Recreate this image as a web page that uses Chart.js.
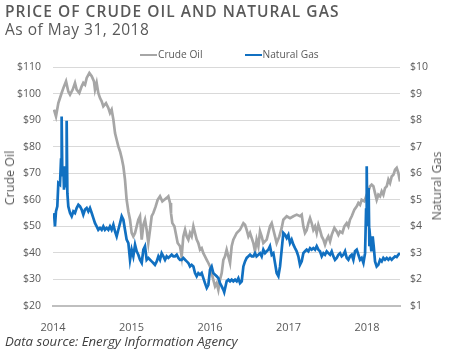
<!DOCTYPE html>
<html>
<head>
<meta charset="utf-8">
<script src="https://cdn.jsdelivr.net/npm/chart.js@4.4.1/dist/chart.umd.min.js"></script>
<style>
  body { margin: 0; background: #fff; }
  #wrap { position: relative; width: 450px; height: 353px; overflow: hidden; font-family: 'Open Sans', sans-serif; color: #595959; }
  canvas { position: absolute; left: 0; top: 0; }
  .txt { position: absolute; white-space: nowrap; }
  #title { left: 5px; top: 1px; font-size: 15.5px; font-weight: 600; letter-spacing: 1.05px; line-height: 20px; }
  #subtitle { left: 5px; top: 19px; font-size: 15.5px; letter-spacing: 0.5px; line-height: 20px; }
  #legend { left: 140px; top: 46px; font-size: 10.2px; line-height: 16px; }
  #legend .item { display: inline-block; }
  #legend .swatch { display: inline-block; width: 17px; height: 2px; vertical-align: middle; margin-right: 1px; }
  #footer { left: 5px; top: 332px; font-size: 13.2px; font-style: italic; color: #404040; line-height: 18px; }
  .axis-title { font-size: 12.5px; line-height: 16px; transform: translate(-50%, -50%) rotate(-90deg); }
</style>
</head>
<body>
<div id="wrap">
  <canvas id="chart" width="450" height="353"></canvas>
  <div class="txt" id="title">PRICE OF CRUDE OIL AND NATURAL GAS</div>
  <div class="txt" id="subtitle">As of May 31, 2018</div>
  <div class="txt" id="legend"></div>
  <div class="txt axis-title" style="left:10px; top:178px;">Crude Oil</div>
  <div class="txt axis-title" style="left:437px; top:186px;">Natural Gas</div>
  <div class="txt" id="footer">Data source: Energy Information Agency</div>
</div>
<script>
const seriesNames = ['Crude Oil', 'Natural Gas'];
const seriesColors = ['#a6a6a6', '#1170c1'];
const yearTicks = [2014, 2015, 2016, 2017, 2018];

// crude oil, $/barrel (left axis)
const oilDates = [
  2014.013, 2014.038, 2014.068, 2014.110, 2014.140, 2014.166, 2014.195, 2014.217, 2014.251, 2014.280,
  2014.301, 2014.335, 2014.365, 2014.386, 2014.408, 2014.429, 2014.463, 2014.493, 2014.522, 2014.535,
  2014.556, 2014.577, 2014.599, 2014.620, 2014.641, 2014.675, 2014.705, 2014.726, 2014.747, 2014.769,
  2014.790, 2014.811, 2014.832, 2014.854, 2014.875, 2014.896, 2014.917, 2014.938, 2014.960, 2014.981,
  2015.002, 2015.023, 2015.045, 2015.066, 2015.087, 2015.108, 2015.130, 2015.151, 2015.172, 2015.193,
  2015.214, 2015.236, 2015.257, 2015.278, 2015.308, 2015.333, 2015.363, 2015.393, 2015.418, 2015.448,
  2015.469, 2015.491, 2015.503, 2015.520, 2015.546, 2015.563, 2015.588, 2015.618, 2015.639, 2015.660,
  2015.682, 2015.703, 2015.724, 2015.745, 2015.766, 2015.788, 2015.809, 2015.830, 2015.851, 2015.873,
  2015.894, 2015.915, 2015.936, 2015.958, 2015.979, 2016.000, 2016.021, 2016.042, 2016.064, 2016.085,
  2016.106, 2016.127, 2016.149, 2016.170, 2016.191, 2016.212, 2016.255, 2016.276, 2016.297, 2016.340,
  2016.382, 2016.425, 2016.446, 2016.467, 2016.489, 2016.510, 2016.552, 2016.573, 2016.594, 2016.616,
  2016.637, 2016.658, 2016.679, 2016.722, 2016.764, 2016.786, 2016.807, 2016.828, 2016.849, 2016.883,
  2016.913, 2016.934, 2016.977, 2017.019, 2017.062, 2017.104, 2017.146, 2017.168, 2017.189, 2017.210,
  2017.231, 2017.253, 2017.274, 2017.295, 2017.316, 2017.338, 2017.359, 2017.380, 2017.401, 2017.423,
  2017.444, 2017.465, 2017.486, 2017.507, 2017.529, 2017.550, 2017.584, 2017.614, 2017.635, 2017.656,
  2017.686, 2017.711, 2017.741, 2017.762, 2017.783, 2017.805, 2017.839, 2017.869, 2017.890, 2017.911,
  2017.932, 2017.966, 2017.996, 2018.017, 2018.038, 2018.059, 2018.081, 2018.102, 2018.123, 2018.144,
  2018.166, 2018.187, 2018.208, 2018.229, 2018.251, 2018.272, 2018.293, 2018.314, 2018.336, 2018.357,
  2018.378, 2018.399, 2018.420
];
const oilPrices = [
  93.9, 91.4, 96.4, 100.2, 102.7, 104.6, 100.8, 99.6, 101.5, 104.0,
  101.5, 100.2, 102.7, 104.0, 103.3, 105.9, 107.7, 106.5, 104.6, 101.5,
  104.0, 100.2, 98.3, 97.1, 95.2, 96.4, 94.6, 92.7, 93.9, 90.2,
  85.1, 82.6, 80.1, 78.2, 75.7, 72.6, 67.6, 60.0, 55.6, 52.5,
  47.5, 46.2, 47.5, 50.0, 52.5, 53.8, 45.0, 50.6, 52.5, 48.7,
  43.7, 48.7, 53.8, 55.0, 57.5, 60.0, 61.3, 59.4, 60.0, 60.7,
  61.3, 58.8, 55.0, 51.2, 50.0, 47.5, 43.7, 42.5, 38.7, 46.2,
  48.7, 46.2, 45.0, 47.5, 46.2, 50.0, 47.5, 45.0, 43.7, 41.2,
  41.8, 39.9, 38.7, 37.4, 36.2, 34.9, 32.4, 29.9, 27.4, 28.6,
  26.1, 29.9, 32.4, 37.4, 38.7, 41.2, 36.2, 42.5, 45.0, 47.5,
  48.7, 51.2, 50.6, 48.7, 46.2, 47.5, 43.7, 40.6, 45.0, 42.5,
  48.1, 46.2, 43.7, 45.0, 50.0, 51.2, 48.7, 46.2, 43.7, 46.2,
  49.4, 52.5, 53.8, 53.1, 53.8, 54.4, 53.8, 54.4, 50.0, 47.5,
  48.5, 51.2, 53.1, 51.2, 48.7, 50.0, 47.5, 50.6, 48.7, 46.2,
  45.0, 43.1, 45.0, 46.2, 44.3, 46.8, 49.4, 48.1, 46.8, 48.1,
  47.5, 50.0, 51.2, 50.0, 52.5, 53.8, 56.3, 57.5, 58.8, 58.1,
  60.0, 59.4, 61.9, 63.2, 65.1, 65.7, 65.1, 62.5, 60.0, 61.9,
  61.3, 63.2, 61.9, 64.4, 65.1, 67.6, 66.3, 68.8, 69.4, 71.3,
  72.0, 70.1, 66.9
];

// natural gas, $/MMBtu (right axis)
const gasDates = [
  2014.013, 2014.025, 2014.038, 2014.055, 2014.068, 2014.089, 2014.102, 2014.110, 2014.119, 2014.132,
  2014.140, 2014.153, 2014.166, 2014.174, 2014.183, 2014.195, 2014.217, 2014.238, 2014.259, 2014.280,
  2014.301, 2014.323, 2014.344, 2014.365, 2014.386, 2014.408, 2014.429, 2014.450, 2014.471, 2014.493,
  2014.514, 2014.535, 2014.556, 2014.577, 2014.599, 2014.620, 2014.641, 2014.662, 2014.684, 2014.705,
  2014.726, 2014.747, 2014.769, 2014.790, 2014.811, 2014.832, 2014.854, 2014.875, 2014.896, 2014.917,
  2014.938, 2014.960, 2014.981, 2015.002, 2015.023, 2015.045, 2015.066, 2015.087, 2015.108, 2015.130,
  2015.151, 2015.172, 2015.193, 2015.214, 2015.236, 2015.257, 2015.278, 2015.299, 2015.321, 2015.342,
  2015.363, 2015.384, 2015.406, 2015.427, 2015.448, 2015.469, 2015.491, 2015.512, 2015.533, 2015.554,
  2015.576, 2015.597, 2015.618, 2015.639, 2015.660, 2015.682, 2015.703, 2015.724, 2015.745, 2015.766,
  2015.788, 2015.809, 2015.830, 2015.851, 2015.873, 2015.894, 2015.915, 2015.936, 2015.958, 2015.979,
  2016.000, 2016.021, 2016.042, 2016.064, 2016.085, 2016.106, 2016.127, 2016.149, 2016.170, 2016.181,
  2016.212, 2016.234, 2016.255, 2016.276, 2016.297, 2016.319, 2016.340, 2016.361, 2016.382, 2016.404,
  2016.425, 2016.446, 2016.467, 2016.489, 2016.510, 2016.531, 2016.552, 2016.573, 2016.594, 2016.616,
  2016.637, 2016.658, 2016.679, 2016.701, 2016.722, 2016.743, 2016.764, 2016.786, 2016.807, 2016.828,
  2016.849, 2016.871, 2016.892, 2016.913, 2016.934, 2016.956, 2016.977, 2016.998, 2017.019, 2017.040,
  2017.062, 2017.083, 2017.104, 2017.125, 2017.146, 2017.168, 2017.189, 2017.210, 2017.231, 2017.253,
  2017.274, 2017.295, 2017.316, 2017.338, 2017.359, 2017.380, 2017.401, 2017.423, 2017.444, 2017.465,
  2017.486, 2017.507, 2017.529, 2017.550, 2017.571, 2017.592, 2017.614, 2017.635, 2017.656, 2017.677,
  2017.699, 2017.720, 2017.741, 2017.762, 2017.783, 2017.805, 2017.826, 2017.847, 2017.869, 2017.890,
  2017.911, 2017.932, 2017.954, 2017.975, 2017.988, 2017.996, 2018.004, 2018.013, 2018.021, 2018.030,
  2018.042, 2018.055, 2018.072, 2018.085, 2018.102, 2018.123, 2018.144, 2018.166, 2018.187, 2018.208,
  2018.229, 2018.251, 2018.272, 2018.293, 2018.314, 2018.336, 2018.357, 2018.378, 2018.399, 2018.420
];
const gasPrices = [
  4.50, 4.00, 4.56, 4.75, 5.63, 5.57, 6.51, 8.14, 5.88, 6.26,
  5.38, 6.13, 5.51, 7.98, 5.25, 4.75, 4.50, 4.38, 4.56, 4.50,
  4.69, 4.81, 4.75, 4.63, 4.44, 4.63, 4.69, 4.56, 4.69, 4.50,
  4.31, 4.12, 4.00, 3.87, 3.94, 3.87, 4.00, 3.87, 3.94, 3.87,
  4.00, 3.87, 4.06, 3.81, 3.62, 3.87, 4.12, 4.38, 4.25, 3.87,
  3.50, 3.37, 2.74, 3.12, 2.87, 3.31, 3.06, 2.93, 2.74, 2.62,
  3.12, 3.25, 2.74, 2.81, 2.74, 2.68, 2.62, 2.55, 2.68, 2.87,
  2.74, 2.99, 2.87, 2.74, 2.87, 2.81, 2.87, 2.93, 2.87, 2.87,
  2.93, 2.81, 2.74, 2.74, 2.81, 2.74, 2.68, 2.62, 2.49, 2.55,
  2.49, 2.24, 2.12, 2.24, 2.18, 2.24, 2.05, 1.86, 1.68, 1.80,
  2.37, 2.49, 2.24, 2.18, 2.12, 2.05, 1.86, 1.74, 1.61, 1.52,
  1.93, 1.99, 1.93, 1.99, 1.93, 1.99, 1.93, 2.05, 1.86, 1.93,
  2.49, 2.68, 2.81, 2.87, 2.93, 2.87, 2.87, 2.99, 2.87, 2.93,
  2.99, 2.87, 3.12, 2.99, 3.06, 3.12, 3.25, 2.93, 2.99, 2.62,
  2.24, 2.12, 2.49, 3.12, 3.75, 3.68, 3.56, 3.68, 3.37, 3.50,
  3.31, 3.18, 3.06, 2.87, 2.55, 2.68, 2.99, 3.06, 3.12, 3.06,
  3.18, 3.12, 3.18, 3.12, 3.25, 3.12, 3.06, 2.87, 2.99, 2.93,
  3.06, 2.99, 2.93, 3.06, 2.87, 2.74, 2.81, 2.93, 2.99, 2.87,
  2.93, 3.06, 2.81, 2.74, 2.87, 2.93, 2.74, 3.06, 3.12, 2.93,
  2.74, 2.81, 2.62, 2.99, 4.63, 6.26, 4.00, 5.44, 5.25, 3.25,
  3.50, 3.06, 3.62, 3.25, 2.68, 2.49, 2.55, 2.74, 2.68, 2.81,
  2.74, 2.81, 2.74, 2.81, 2.74, 2.81, 2.87, 2.84, 2.93, 2.99
];

function toPoints(dates, values) {
  return dates.map((d, i) => ({ x: d, y: values[i] }));
}

// legend (html, line swatch right against the text like the original)
const legend = document.getElementById('legend');
seriesNames.forEach((name, i) => {
  const item = document.createElement('span');
  item.className = 'item';
  if (i > 0) item.style.marginLeft = '42px';
  item.innerHTML = '<span class="swatch" style="background:' + seriesColors[i] + '"></span>' + name;
  legend.appendChild(item);
});

const tickFont = { family: "'Open Sans', sans-serif", size: 10.5 };

new Chart(document.getElementById('chart'), {
  type: 'line',
  data: {
    datasets: [
      {
        label: seriesNames[1],
        data: toPoints(gasDates, gasPrices),
        yAxisID: 'yGas',
        borderColor: seriesColors[1],
        borderWidth: 2.7,
        pointRadius: 0,
        tension: 0,
        order: 0
      },
      {
        label: seriesNames[0],
        data: toPoints(oilDates, oilPrices),
        yAxisID: 'yOil',
        borderColor: seriesColors[0],
        borderWidth: 2.7,
        pointRadius: 0,
        tension: 0,
        order: 1
      }
    ]
  },
  options: {
    responsive: false,
    animation: false,
    layout: { padding: { top: 67, left: 0, right: 0, bottom: 0 } },
    plugins: {
      legend: { display: false },
      tooltip: { enabled: false }
    },
    scales: {
      x: {
        type: 'linear',
        min: 2014,
        max: 2018.42,
        afterBuildTicks: axis => { axis.ticks = yearTicks.map(v => ({ value: v })); },
        afterFit: axis => { axis.height = 47; },
        grid: { display: false },
        border: { color: '#bfbfbf', width: 2 },
        ticks: {
          callback: v => String(v),
          color: '#595959',
          font: { family: "'Open Sans', sans-serif", size: 11 },
          padding: 7,
          maxRotation: 0
        }
      },
      yOil: {
        position: 'left',
        min: 20,
        max: 110,
        afterFit: axis => { axis.width = 53; },
        grid: { color: '#d9d9d9', drawTicks: false },
        border: { display: false },
        ticks: {
          stepSize: 10,
          callback: v => '$' + v,
          color: '#595959',
          font: tickFont,
          padding: 12
        }
      },
      yGas: {
        position: 'right',
        min: 1,
        max: 10,
        afterFit: axis => { axis.width = 50; },
        grid: { display: false, drawTicks: false },
        border: { display: false },
        ticks: {
          stepSize: 1,
          callback: v => '$' + v,
          color: '#595959',
          font: tickFont,
          padding: 10
        }
      }
    }
  }
});
</script>
</body>
</html>
